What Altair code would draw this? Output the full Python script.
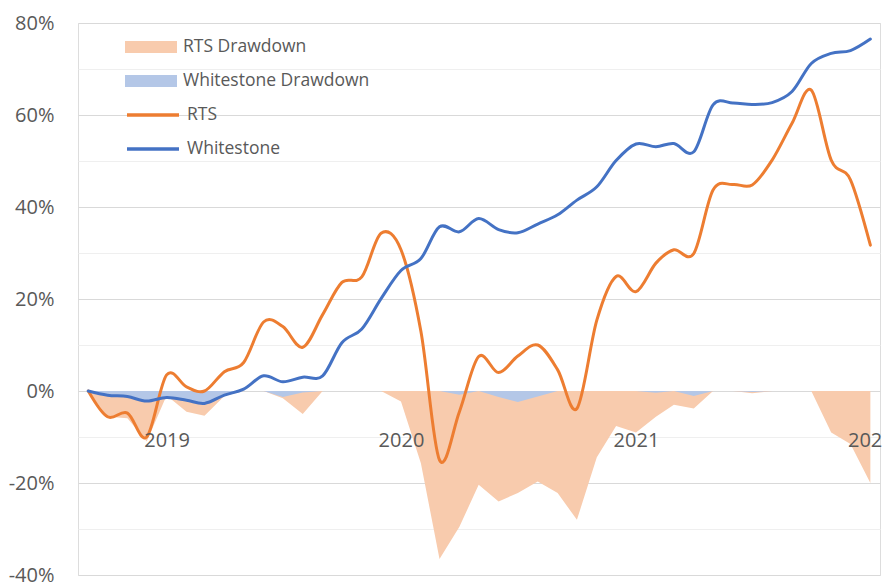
import altair as alt
import pandas as pd

# Monthly observations, Sep 2018 .. Jan 2022
months = pd.date_range("2018-09-01", "2022-01-01", freq="MS").strftime("%Y-%m-%dT00:00:00").tolist()

rts = [0, -5.6, -4.8, -10, 3.5, 0.9, 0, 4.2, 6.2, 15, 14, 9.5, 16.6, 23.6, 24.8, 34.3, 30.7,
       13, -15, -4.5, 7.5, 4, 7.6, 10, 4.6, -3.8, 15.4, 24.9, 21.6, 27.8, 30.7, 29.9, 43.7,
       44.9, 44.8, 50.2, 58.2, 65.4, 50.2, 45.9, 31.7]
whitestone = [0, -0.9, -1.2, -2.2, -1.4, -2.0, -2.7, -0.9, 0.4, 3.3, 2.0, 3.0, 3.3, 10.5, 13.5,
              20.1, 26.2, 28.8, 35.7, 34.6, 37.5, 35.1, 34.4, 36.3, 38.3, 41.5, 44.4, 50.1, 53.7,
              53.1, 53.8, 52.0, 62.2, 62.6, 62.3, 62.7, 65.1, 71.2, 73.4, 74.0, 76.5]
rts_dd = [0, -5.6, -5.9, -11, -1, -4.5, -5.4, -1.1, 0, 0, -1.6, -5, 0, 0, 0, 0, -2.3, -15.7,
          -36.5, -29.5, -20.4, -24, -22.2, -19.7, -22.2, -28, -14.4, -7.6, -9, -5.6, -3, -3.8,
          0, 0, -0.5, 0, 0, 0, -9, -11.5, -20]
whitestone_dd = [0, -0.9, -1.2, -2.2, -1.4, -2.0, -2.7, -0.9, 0, 0, -1.3, -0.3, 0, 0, 0, 0, 0,
                 0, 0, -0.8, 0, -1.3, -2.4, -1.2, 0, 0, 0, 0, 0, -0.4, 0, -1.1, 0, 0, -0.2, 0,
                 0, 0, 0, 0, 0]

area_names = ["RTS Drawdown", "Whitestone Drawdown"]
area_colors = ["#F8CBAD", "#B4C7E7"]
line_names = ["RTS", "Whitestone"]
line_colors = ["#ED7D31", "#4472C4"]
year_ticks = [2019, 2020, 2021, 2022]

FONT = "Open Sans"
TXT = "#595959"

df_rts_dd = pd.DataFrame({"date": months, "value": rts_dd, "series": area_names[0]})
df_ws_dd = pd.DataFrame({"date": months, "value": whitestone_dd, "series": area_names[1]})
df_rts = pd.DataFrame({"date": months, "value": rts, "series": line_names[0]})
df_ws = pd.DataFrame({"date": months, "value": whitestone, "series": line_names[1]})

x_enc = alt.X(
    "date:T",
    scale=alt.Scale(domain=[alt.DateTime(year=2018, month=8, date=16),
                            alt.DateTime(year=2022, month=1, date=16)]),
    axis=alt.Axis(
        values=[alt.DateTime(year=y, month=1, date=1) for y in year_ticks],
        format="%Y", title=None, grid=False, ticks=False, domain=False,
        labelFontSize=20, labelColor=TXT, labelFont=FONT, labelPadding=39,
        offset=-184, labelFlush=False, labelOverlap=False, labelBound=False,
        zindex=2,
    ),
)
y_enc = alt.Y(
    "value:Q",
    stack=None,
    scale=alt.Scale(domain=[-40, 80], nice=False, zero=False),
    axis=alt.Axis(
        values=list(range(-40, 81, 10)),
        labelExpr="datum.value % 20 == 0 ? datum.value + '%' : ''",
        gridColor={"condition": {"test": "datum.value % 20 != 0", "value": "#efefef"},
                   "value": "#d9d9d9"},
        gridWidth=1, domain=False, ticks=False, title=None,
        labelFontSize=20, labelColor=TXT, labelFont=FONT, labelPadding=24,
        labelOverlap=False,
    ),
)

fill_enc = alt.Fill(
    "series:N",
    scale=alt.Scale(domain=area_names, range=area_colors),
    legend=alt.Legend(
        title=None, orient="none", legendX=47, legendY=7, padding=0,
        symbolType="M-1,-0.23H1V0.23H-1Z", symbolSize=2704, symbolOpacity=1,
        symbolStrokeWidth=0, clipHeight=34, rowPadding=0, labelOffset=6,
        labelFontSize=17.5, labelColor=TXT, labelFont=FONT, labelLimit=400,
    ),
)
stroke_enc = alt.Stroke(
    "series:N",
    scale=alt.Scale(domain=line_names, range=line_colors),
    legend=alt.Legend(
        title=None, orient="none", legendX=47, legendY=75, padding=0,
        symbolType="M-1,0H1", symbolSize=2704, symbolStrokeWidth=3.5,
        clipHeight=34, rowPadding=0, labelOffset=6,
        labelFontSize=17.5, labelColor=TXT, labelFont=FONT, labelLimit=400,
    ),
)

a1 = alt.Chart(df_rts_dd).mark_area(interpolate="linear", opacity=1).encode(x=x_enc, y=y_enc, fill=fill_enc)
a2 = alt.Chart(df_ws_dd).mark_area(interpolate="linear", opacity=1).encode(x=x_enc, y=y_enc, fill=fill_enc)
l1 = alt.Chart(df_rts).mark_line(interpolate="cardinal", strokeWidth=3, strokeCap="round").encode(x=x_enc, y=y_enc, stroke=stroke_enc)
l2 = alt.Chart(df_ws).mark_line(interpolate="cardinal", strokeWidth=3, strokeCap="round").encode(x=x_enc, y=y_enc, stroke=stroke_enc)

chart = alt.layer(a1, a2, l1, l2).properties(
    width=802, height=552,
    autosize=alt.AutoSizeParams(type="none"),
    padding={"left": 70, "top": 15, "right": 2, "bottom": 9},
).configure_view(stroke=None).configure(font=FONT)

chart.save("out.html", embed_options={"renderer": "svg", "actions": False})
